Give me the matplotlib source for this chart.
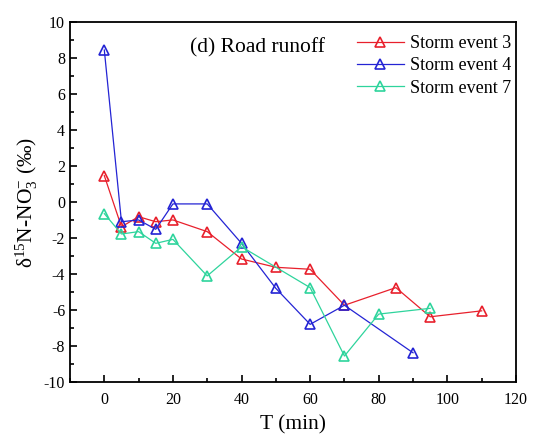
import numpy as np
import matplotlib.pyplot as plt
from matplotlib.ticker import MultipleLocator

plt.rcParams['font.family'] = ['Liberation Serif', 'DejaVu Serif']
plt.rcParams['mathtext.fontset'] = 'custom'
plt.rcParams['mathtext.rm'] = 'Liberation Serif'
plt.rcParams['mathtext.it'] = 'Liberation Serif:italic'
plt.rcParams['axes.unicode_minus'] = False

# storm event 3
t3 = [0, 5, 10, 15, 20, 30, 40, 50, 60, 70, 85, 95, 110]
d3 = [1.48, -1.36, -0.8, -1.08, -0.98, -1.63, -3.15, -3.61, -3.72, -5.72, -4.74, -6.36, -6.03]
# storm event 4
t4 = [0, 5, 10, 15, 20, 30, 40, 50, 60, 70, 90]
d4 = [8.46, -1.08, -0.98, -1.5, -0.09, -0.09, -2.28, -4.78, -6.78, -5.72, -8.36]
# storm event 7
t7 = [0, 5, 10, 15, 20, 30, 40, 60, 70, 80, 95]
d7 = [-0.63, -1.76, -1.63, -2.28, -2.06, -4.09, -2.47, -4.74, -8.54, -6.21, -5.89]

fig = plt.figure(figsize=(5.36, 4.43), dpi=100)
ax = fig.add_axes([0.1306, 0.137, 0.832, 0.8127])

style = dict(marker='^', markersize=7.5, markerfacecolor='none',
             markeredgewidth=1.2, linewidth=0.9)
ax.plot(t3, d3, color='#e8202c', label='Storm event 3', **style)
ax.plot(t4, d4, color='#2424d4', label='Storm event 4', **style)
ax.plot(t7, d7, color='#2ed49c', label='Storm event 7', **style)

ax.set_xlim(-10, 120)
ax.set_ylim(-10, 10)
ax.xaxis.set_major_locator(MultipleLocator(20))
ax.xaxis.set_minor_locator(MultipleLocator(10))
ax.yaxis.set_major_locator(MultipleLocator(2))
ax.yaxis.set_minor_locator(MultipleLocator(1))
ax.tick_params(which='both', direction='in', top=False, right=False,
               labelsize=11.5, width=1.2)
ax.tick_params(which='major', length=5)
ax.tick_params(which='minor', length=3)
ax.tick_params(axis='x', pad=7)
for s in ax.spines.values():
    s.set_linewidth(1.3)

ax.set_xlabel('T (min)', fontsize=15.5, labelpad=5)
ax.set_ylabel('δ$^{15}$N-NO$_3^{-}$ (‰)', fontsize=15.5, labelpad=3)
ax.text(0.27, 0.93, '(d) Road runoff', transform=ax.transAxes,
        fontsize=15.5, va='center', ha='left')

ax.legend(loc='upper right', bbox_to_anchor=(1.018, 1.0), frameon=False,
          fontsize=13, handlelength=2.6, labelspacing=0.3,
          borderaxespad=0.3, handletextpad=0.35)

fig.savefig('out.png', dpi=100)
